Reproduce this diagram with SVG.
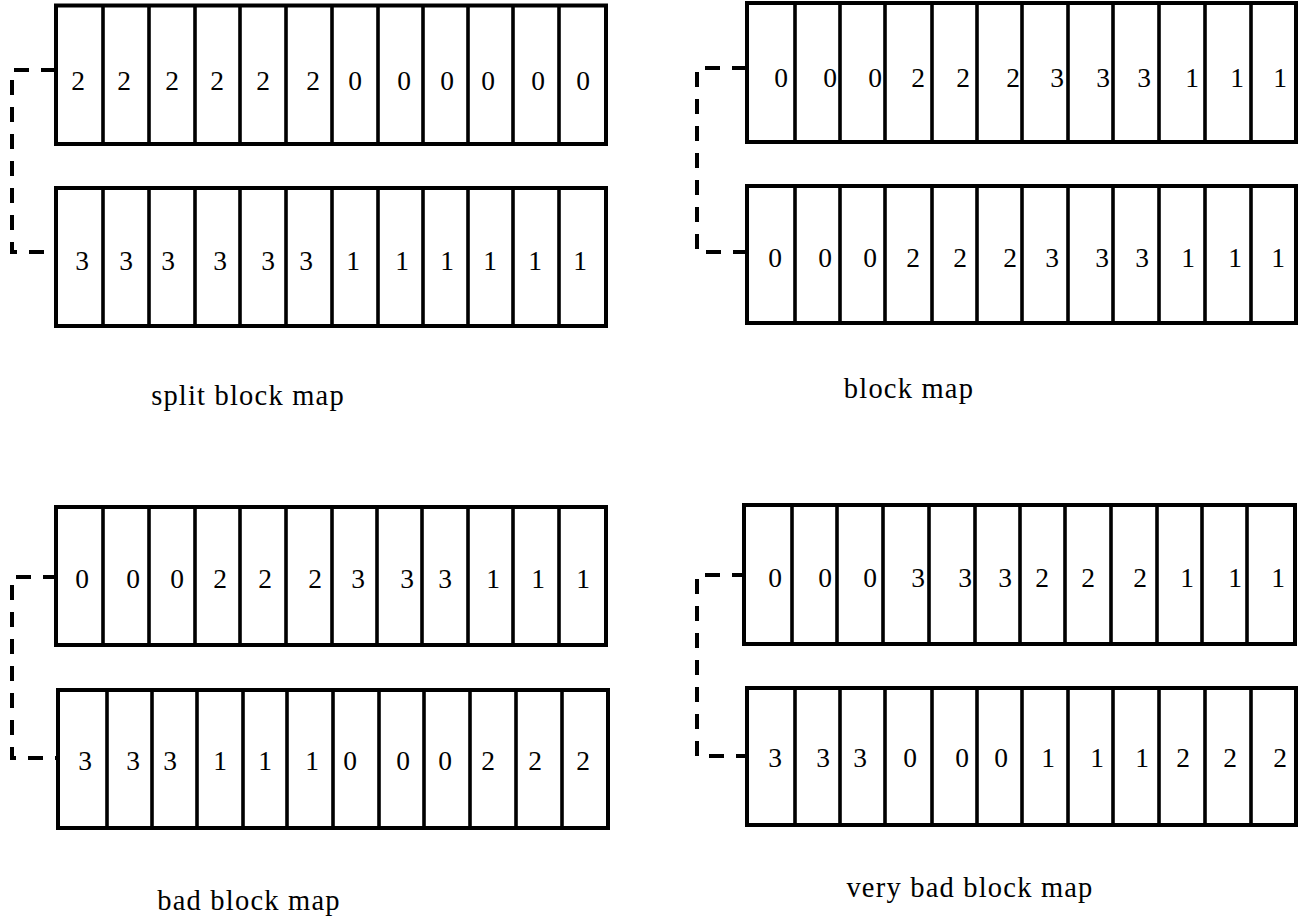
<svg xmlns="http://www.w3.org/2000/svg" width="1302" height="919" viewBox="0 0 1302 919">
<style>
.box{fill:#fff;stroke:#000;stroke-width:4}
.div{stroke:#000;stroke-width:3.6}
.d{font-family:"Liberation Serif","DejaVu Serif",serif;font-size:27.5px;fill:#000;text-anchor:middle}
.lbl{font-family:"Liberation Serif","DejaVu Serif",serif;font-size:28.5px;fill:#000;text-anchor:middle;letter-spacing:1.2px}
.conn{fill:none;stroke:#000;stroke-width:4;stroke-dasharray:15 12}
</style>
<rect width="1302" height="919" fill="#fff"/>
<g id="connectors">
<path class="conn" d="M56,70 H12 V252 H56"/>
<path class="conn" d="M747,68 H697 V252 H747"/>
<path class="conn" d="M58,577 H12 V758 H58"/>
<path class="conn" d="M747,575 H697 V756 H747"/>
</g>
<g id="split-top">
<rect class="box" x="56" y="5.5" width="550" height="138.5"/>
<path class="div" d="M103,5.5V144M149,5.5V144M195,5.5V144M240,5.5V144M286,5.5V144M332,5.5V144M378,5.5V144M423,5.5V144M468,5.5V144M513,5.5V144M559,5.5V144"/>
<text class="d" y="90"><tspan x="78">2</tspan><tspan x="124">2</tspan><tspan x="172">2</tspan><tspan x="217">2</tspan><tspan x="263">2</tspan><tspan x="313">2</tspan><tspan x="355">0</tspan><tspan x="404">0</tspan><tspan x="447">0</tspan><tspan x="488">0</tspan><tspan x="538">0</tspan><tspan x="583">0</tspan></text>
</g>
<g id="split-bottom">
<rect class="box" x="56" y="188" width="550" height="138"/>
<path class="div" d="M103,188V326M149,188V326M195,188V326M240,188V326M286,188V326M332,188V326M378,188V326M423,188V326M468,188V326M513,188V326M559,188V326"/>
<text class="d" y="270"><tspan x="82">3</tspan><tspan x="126">3</tspan><tspan x="168">3</tspan><tspan x="220">3</tspan><tspan x="268">3</tspan><tspan x="306">3</tspan><tspan x="353">1</tspan><tspan x="402">1</tspan><tspan x="447">1</tspan><tspan x="490">1</tspan><tspan x="535">1</tspan><tspan x="580">1</tspan></text>
</g>
<g id="label-split"><text class="lbl" x="248" y="405">split block map</text></g>
<g id="block-top">
<rect class="box" x="747" y="3" width="549" height="139"/>
<path class="div" d="M795,3V142M840,3V142M885,3V142M932,3V142M977,3V142M1022,3V142M1068,3V142M1113,3V142M1159,3V142M1205,3V142M1251,3V142"/>
<text class="d" y="87"><tspan x="781">0</tspan><tspan x="830">0</tspan><tspan x="875">0</tspan><tspan x="918">2</tspan><tspan x="963">2</tspan><tspan x="1013">2</tspan><tspan x="1057">3</tspan><tspan x="1103">3</tspan><tspan x="1144">3</tspan><tspan x="1192">1</tspan><tspan x="1237">1</tspan><tspan x="1280">1</tspan></text>
</g>
<g id="block-bottom">
<rect class="box" x="747" y="186" width="549" height="137"/>
<path class="div" d="M795,186V323M840,186V323M885,186V323M932,186V323M977,186V323M1022,186V323M1068,186V323M1113,186V323M1159,186V323M1205,186V323M1251,186V323"/>
<text class="d" y="267"><tspan x="775">0</tspan><tspan x="825">0</tspan><tspan x="870">0</tspan><tspan x="913">2</tspan><tspan x="960">2</tspan><tspan x="1010">2</tspan><tspan x="1052">3</tspan><tspan x="1102">3</tspan><tspan x="1142">3</tspan><tspan x="1188">1</tspan><tspan x="1235">1</tspan><tspan x="1278">1</tspan></text>
</g>
<g id="label-block"><text class="lbl" x="909" y="398">block map</text></g>
<g id="bad-top">
<rect class="box" x="56" y="507" width="550" height="138"/>
<path class="div" d="M103,507V645M149,507V645M195,507V645M240,507V645M286,507V645M332,507V645M377,507V645M422,507V645M468,507V645M513,507V645M559,507V645"/>
<text class="d" y="588"><tspan x="82">0</tspan><tspan x="133">0</tspan><tspan x="177">0</tspan><tspan x="220">2</tspan><tspan x="265">2</tspan><tspan x="315">2</tspan><tspan x="358">3</tspan><tspan x="407">3</tspan><tspan x="445">3</tspan><tspan x="493">1</tspan><tspan x="538">1</tspan><tspan x="583">1</tspan></text>
</g>
<g id="bad-bottom">
<rect class="box" x="58" y="690" width="550" height="138"/>
<path class="div" d="M107,690V828M152,690V828M197,690V828M243,690V828M287,690V828M333,690V828M379,690V828M424,690V828M470,690V828M516,690V828M562,690V828"/>
<text class="d" y="770"><tspan x="85">3</tspan><tspan x="133">3</tspan><tspan x="170">3</tspan><tspan x="220">1</tspan><tspan x="265">1</tspan><tspan x="312">1</tspan><tspan x="350">0</tspan><tspan x="403">0</tspan><tspan x="445">0</tspan><tspan x="488">2</tspan><tspan x="535">2</tspan><tspan x="583">2</tspan></text>
</g>
<g id="label-bad"><text class="lbl" x="249" y="910">bad block map</text></g>
<g id="verybad-top">
<rect class="box" x="744" y="505" width="551" height="139"/>
<path class="div" d="M792,505V644M837,505V644M883,505V644M929,505V644M975,505V644M1020,505V644M1065,505V644M1111,505V644M1157,505V644M1202,505V644M1247,505V644"/>
<text class="d" y="587"><tspan x="775">0</tspan><tspan x="825">0</tspan><tspan x="870">0</tspan><tspan x="918">3</tspan><tspan x="965">3</tspan><tspan x="1005">3</tspan><tspan x="1042">2</tspan><tspan x="1088">2</tspan><tspan x="1140">2</tspan><tspan x="1187">1</tspan><tspan x="1235">1</tspan><tspan x="1278">1</tspan></text>
</g>
<g id="verybad-bottom">
<rect class="box" x="747" y="688" width="549" height="137"/>
<path class="div" d="M795,688V825M840,688V825M885,688V825M932,688V825M977,688V825M1022,688V825M1068,688V825M1113,688V825M1159,688V825M1205,688V825M1251,688V825"/>
<text class="d" y="767"><tspan x="775">3</tspan><tspan x="823">3</tspan><tspan x="860">3</tspan><tspan x="910">0</tspan><tspan x="962">0</tspan><tspan x="1001">0</tspan><tspan x="1048">1</tspan><tspan x="1097">1</tspan><tspan x="1142">1</tspan><tspan x="1183">2</tspan><tspan x="1230">2</tspan><tspan x="1280">2</tspan></text>
</g>
<g id="label-verybad"><text class="lbl" x="970" y="897">very bad block map</text></g>
</svg>
